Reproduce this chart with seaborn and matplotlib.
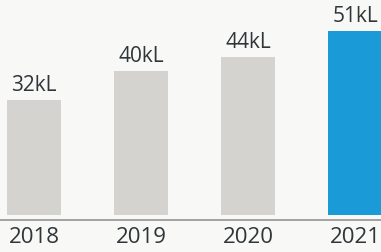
import matplotlib
matplotlib.use("Agg")
import matplotlib.pyplot as plt
import pandas as pd
import seaborn as sns

years = ["2018", "2019", "2020", "2021"]
volumes = [32, 40, 44, 51]
labels = ["32kL", "40kL", "44kL", "51kL"]
bar_colors = ["#d5d3d0", "#d5d3d0", "#d5d3d0", "#1a9bd7"]

sns.set_style("white")
plt.rcParams["font.family"] = ["Open Sans", "DejaVu Sans"]

df = pd.DataFrame({"Year": years, "Volume": volumes})

fig = plt.figure(figsize=(3.81, 2.52), dpi=100)
fig.patch.set_facecolor("#f8f8f6")
ax = fig.add_axes([0, 32 / 252, 1, 220 / 252])
ax.set_facecolor("#f8f8f6")

sns.barplot(data=df, x="Year", y="Volume", hue="Year", palette=bar_colors,
            legend=False, width=0.51, saturation=1, linewidth=0, ax=ax)

for i, (v, lab) in enumerate(zip(volumes, labels)):
    ax.text(i, v + 1.1, lab, ha="center", va="bottom", fontsize=15,
            fontweight="medium", color="#2f3539")

ax.set_xlim(-0.318, 3.243)
ax.set_ylim(-1.4, 59.7)
ax.set_xlabel("")
ax.set_ylabel("")
ax.set_yticks([])
for s in ["top", "left", "right"]:
    ax.spines[s].set_visible(False)
ax.spines["bottom"].set_color("#9a9a9a")
ax.spines["bottom"].set_linewidth(1.3)
ax.tick_params(axis="x", length=0, pad=5, labelsize=16, labelcolor="#2f3539")
for t in ax.get_xticklabels():
    t.set_fontweight("medium")

fig.savefig("out.png", dpi=100, facecolor=fig.get_facecolor())
